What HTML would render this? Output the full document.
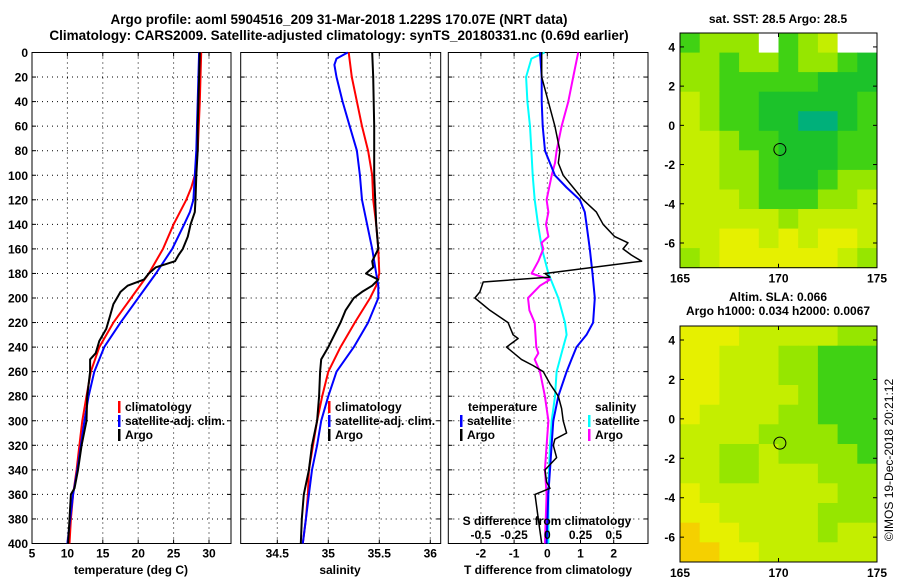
<!DOCTYPE html>
<html><head><meta charset="utf-8"><style>
html,body{margin:0;padding:0;background:#fff;}
svg{display:block;font-family:"Liberation Sans",sans-serif;font-weight:bold;}
</style></head><body>
<svg id="c" width="900" height="580" viewBox="0 0 900 580">
<text x="339" y="24" font-size="13.5" text-anchor="middle">Argo profile: aoml 5904516_209 31-Mar-2018 1.229S 170.07E (NRT data)</text>
<text x="339" y="40" font-size="13.5" text-anchor="middle">Climatology: CARS2009. Satellite-adjusted climatology: synTS_20180331.nc (0.69d earlier)</text>
<text x="778" y="23" font-size="12" text-anchor="middle">sat. SST: 28.5 Argo: 28.5</text>
<text x="778" y="301" font-size="12" text-anchor="middle">Altim. SLA: 0.066</text>
<text x="778" y="315" font-size="12" text-anchor="middle">Argo h1000: 0.034 h2000: 0.0067</text>
<text x="893" y="460" font-size="12" font-weight="normal" text-anchor="middle" transform="rotate(-90 893 460)">©IMOS 19-Dec-2018 20:21:12</text>
<g id="g"></g>
</svg>
<script>
// ---- profile data (depth m) ----
const depthArgoT = [0,20,40,60,80,100,120,130,140,150,160,165,170,175,180,185,190,195,200,205,215,225,235,245,250,260,280,300,320,340,355,360,380,400];
const tempArgo  = [28.7,28.6,28.5,28.4,28.4,28.2,28.1,28.0,27.4,27.0,26.3,25.7,25.2,22.5,21.5,20.8,18.5,17.5,17.0,16.5,16.0,15.5,14.5,14.0,13.2,13.2,12.8,12.7,12.0,11.5,11.0,10.5,10.3,10.1];
const depthClimT = [0,40,80,100,110,120,140,160,180,200,220,240,260,280,300,320,340,360,380,400];
const tempClim  = [28.9,28.7,28.4,28.0,27.5,26.8,25.0,23.5,21.5,19.0,16.5,14.5,13.3,12.7,12.1,11.7,11.3,10.8,10.5,10.3];
const depthSatT = [0,40,80,100,120,130,140,160,180,200,220,240,260,280,300,320,340,360,380,400];
const tempSat   = [28.6,28.4,28.2,28.0,27.8,27.3,26.5,24.8,22.5,20.0,17.5,15.2,13.8,13.0,12.4,11.9,11.4,10.8,10.4,10.0];

const depthArgoS = [0,20,60,100,140,160,170,175,180,185,190,195,200,210,220,230,240,250,260,280,300,320,340,360,380,400];
const salArgo    = [35.43,35.44,35.45,35.45,35.47,35.49,35.43,35.44,35.37,35.49,35.43,35.33,35.25,35.17,35.12,35.06,35.0,34.93,34.92,34.91,34.89,34.84,34.81,34.76,34.74,34.73];
const depthClimS = [0,20,40,60,80,100,120,140,160,180,190,200,220,240,260,280,300,320,340,360,380,400];
const salClim    = [35.2,35.23,35.28,35.33,35.39,35.43,35.44,35.47,35.49,35.5,35.47,35.41,35.26,35.12,35.0,34.94,34.89,34.85,34.81,34.8,34.78,34.75];
const depthSatS  = [0,5,10,20,40,60,80,100,120,140,160,180,190,200,220,240,260,280,300,320,340,360,380,400];
const salSat     = [35.19,35.08,35.06,35.08,35.14,35.21,35.28,35.31,35.33,35.38,35.43,35.47,35.49,35.49,35.39,35.25,35.08,35.0,34.93,34.89,34.84,34.81,34.78,34.75];

const depthDTsat = [0,20,40,60,80,100,110,120,130,140,160,180,200,220,230,240,250,260,280,300,320,340,360,400];
const dTsat      = [-0.22,-0.17,-0.17,-0.14,-0.07,0.23,0.58,0.98,1.13,1.18,1.28,1.36,1.43,1.38,1.18,0.88,0.73,0.58,0.33,0.18,0.13,0.08,0.03,-0.02];
const depthDTargo = [0,20,30,40,60,80,90,100,110,120,130,140,150,155,160,165,170,180,183,187,195,200,210,220,230,233,240,250,255,260,270,280,290,300,310,315,320,330,340,350,355,360,380,400];
const dTargo      = [-0.17,-0.17,-0.07,0.03,0.23,0.38,0.33,0.48,0.78,1.08,1.48,1.68,2.03,2.43,2.28,2.53,2.84,-0.07,0.08,-1.93,-2.03,-2.18,-1.73,-1.18,-1.03,-0.88,-1.23,-0.78,-0.43,-0.12,0.08,0.33,0.43,0.48,0.58,0.23,0.18,0.28,-0.07,-0.02,0.08,-0.37,-0.27,-0.17];
const depthDSsat = [0,5,20,40,60,80,100,120,140,160,180,200,220,230,240,260,280,300,320,340,360,400];
const dSsat      = [-0.02,-0.12,-0.16,-0.15,-0.13,-0.12,-0.11,-0.095,-0.07,-0.04,0.008,0.083,0.133,0.145,0.12,0.07,0.058,0.033,0.02,0.013,0.008,0.008];
const depthDSargo = [0,20,40,60,80,90,100,120,130,140,150,155,160,170,180,185,190,200,210,220,240,245,250,260,280,300,320,340,360,400];
const dSargo      = [0.233,0.195,0.158,0.108,0.07,0.058,0.033,-0.005,0.008,-0.01,0.008,-0.043,-0.03,-0.068,-0.118,0.02,-0.055,-0.145,-0.135,-0.095,-0.083,-0.068,-0.095,-0.055,-0.018,0.008,-0.005,-0.018,-0.005,-0.018];

// ---- tick labels ----
const depthTicks = [0,20,40,60,80,100,120,140,160,180,200,220,240,260,280,300,320,340,360,380,400];
const tempTicks = [5,10,15,20,25,30];
const salTicks = [34.5,35,35.5,36];
const dTTicks = [-2,-1,0,1,2];
const dSTicks = [-0.5,-0.25,0,0.25,0.5];
const lonTicks = [165,170,175];
const latTicks = [4,2,0,-2,-4,-6];

// ---- map data (rows lat 4.7 -> -7.3, cols lon 165 -> 175), colour level index ----
const sstGrid = [
[4,3,3,3,7,4,3,2,7,7],
[3,3,4,3,3,4,3,3,4,5],
[3,3,4,4,4,4,4,5,5,5],
[2,3,4,4,5,5,5,5,5,4],
[2,3,4,4,5,5,6,6,5,4],
[2,2,3,4,4,5,5,5,4,4],
[2,2,3,3,4,5,5,5,4,4],
[2,2,3,3,4,5,5,4,3,3],
[2,2,2,3,4,4,4,3,3,2],
[2,2,2,2,2,3,2,2,2,2],
[2,2,1,1,2,1,2,1,1,2],
[3,2,1,1,1,1,1,1,2,3]];
const slaGrid = [
[1,1,1,2,2,2,2,2,3,3],
[1,1,2,2,2,3,3,4,4,4],
[1,1,2,2,2,3,3,4,4,4],
[1,1,2,2,2,2,3,4,4,4],
[1,2,2,2,2,3,3,4,4,4],
[2,2,2,2,3,3,3,3,4,4],
[2,2,3,3,2,3,3,3,3,4],
[2,2,3,3,2,2,2,3,3,3],
[1,2,2,2,2,2,2,2,3,3],
[1,1,2,2,2,2,2,3,3,3],
[0,1,1,2,2,2,2,3,2,2],
[0,0,1,1,2,2,2,2,2,2]];
const argoLon = 170.07, argoLat = -1.229;

const NS="http://www.w3.org/2000/svg";
const G=document.getElementById('g');
function mk(tag,attrs,parent){const e=document.createElementNS(NS,tag);for(const k in attrs)e.setAttribute(k,attrs[k]);(parent||G).appendChild(e);return e;}
const yD = d => 52.5 + d*1.2275;
const xT = t => 32 + (t-5)*7.08;
const xS = s => 328.3 + (s-35)*102;
const xDT = t => 547.3 + t*33.2;
const xDS = s => 547.3 + s*132.8;
const TOP=52.5, BOT=yD(400);

function panel(x0,x1,name,vgrid,fx){
  const g=mk('g',{});
  
  
  depthTicks.forEach(d=>{ if(d>0&&d<400){ const l=mk('line',{x1:x0,x2:x1,y1:yD(d),y2:yD(d),stroke:'#000','stroke-width':1,'stroke-dasharray':'1,4'},g);
    }
    mk('line',{x1:x0,x2:x0+4,y1:yD(d),y2:yD(d),stroke:'#000'},g);mk('line',{x1:x1-4,x2:x1,y1:yD(d),y2:yD(d),stroke:'#000'},g);});
  vgrid.forEach(v=>{const x=fx(v); if(x>x0+1&&x<x1-1){const l=mk('line',{x1:x,x2:x,y1:TOP,y2:BOT,stroke:'#000','stroke-dasharray':'1,4'},g);
    }
    mk('line',{x1:x,x2:x,y1:BOT-4,y2:BOT,stroke:'#000'},g);mk('line',{x1:x,x2:x,y1:TOP,y2:TOP+4,stroke:'#000'},g);
    const t=mk('text',{x:x,y:BOT+14,'font-size':12,'text-anchor':'middle'},g);t.textContent=String(v);
    });
  const r=mk('rect',{x:x0,y:TOP,width:x1-x0,height:BOT-TOP,fill:'none',stroke:'#000','stroke-width':1},g);
  
  return g;
}
function line(g,ds,vs,fx,color,w,name){
  const pts=ds.map((d,i)=>fx(vs[i]).toFixed(1)+','+yD(d).toFixed(1)).join(' ');
  const p=mk('polyline',{points:pts,fill:'none',stroke:color,'stroke-width':w,'stroke-linejoin':'round'},g);
  
  
}
function txt(g,x,y,s,size,anchor,name,color){const t=mk('text',{x:x,y:y,'font-size':size,'text-anchor':anchor||'start',fill:color||'#000'},g);t.textContent=s;
  return t;}
function legBar(g,x,y,color){const r=mk('rect',{x:x,y:y-10,width:2.5,height:12,fill:color},g);}

// panel 1
const p1=panel(32,231,'temperature-panel',tempTicks,xT);
depthTicks.forEach(d=>txt(p1,28,yD(d)+4.5,String(d),12,'end','y-tick-label'));
line(p1,depthClimT,tempClim,xT,'#f00',2,'climatology-temperature-line');
line(p1,depthSatT,tempSat,xT,'#00f',2,'satellite-temperature-line');
line(p1,depthArgoT,tempArgo,xT,'#000',2,'argo-temperature-line');
txt(p1,131,574,'temperature (deg C)',12,'middle','x-axis-title');
[['climatology','#f00'],['satellite-adj. clim.','#00f'],['Argo','#000']].forEach((e,i)=>{legBar(p1,118,411+i*14,e[1]);txt(p1,125,411+i*14,e[0],12,'start','legend-entry');});

// panel 2
const p2=panel(240.7,440.7,'salinity-panel',salTicks,xS);
line(p2,depthClimS,salClim,xS,'#f00',2,'climatology-salinity-line');
line(p2,depthSatS,salSat,xS,'#00f',2,'satellite-salinity-line');
line(p2,depthArgoS,salArgo,xS,'#000',2,'argo-salinity-line');
txt(p2,340,574,'salinity',12,'middle','x-axis-title');
[['climatology','#f00'],['satellite-adj. clim.','#00f'],['Argo','#000']].forEach((e,i)=>{legBar(p2,328,411+i*14,e[1]);txt(p2,335,411+i*14,e[0],12,'start','legend-entry');});

// panel 3
const p3=panel(448.3,648,'difference-panel',dTTicks,xDT);
line(p3,depthDSsat,dSsat,xDS,'#0ff',2,'satellite-salinity-diff-line');
line(p3,depthDSargo,dSargo,xDS,'#f0f',2,'argo-salinity-diff-line');
line(p3,depthDTsat,dTsat,xDT,'#00f',2,'satellite-temperature-diff-line');
line(p3,depthDTargo,dTargo,xDT,'#000',1.5,'argo-temperature-diff-line');
txt(p3,548,574,'T difference from climatology',12,'middle','x-axis-title');
txt(p3,547,525,'S difference from climatology',12,'middle','s-axis-title');
dSTicks.forEach(v=>txt(p3,xDS(v),539,String(v),12,'middle','s-tick-label'));
txt(p3,468,411,'temperature',12,'start','legend-title');
txt(p3,595,411,'salinity',12,'start','legend-title');
legBar(p3,460,425,'#00f');txt(p3,467,425,'satellite',12,'start','legend-entry');
legBar(p3,460,439,'#000');txt(p3,467,439,'Argo',12,'start','legend-entry');
legBar(p3,588,425,'#0ff');txt(p3,595,425,'satellite',12,'start','legend-entry');
legBar(p3,588,439,'#f0f');txt(p3,595,439,'Argo',12,'start','legend-entry');

// maps
const palette=['#f5d000','#e6f000','#c4ee00','#96e600','#40d214','#1cc22a','#00b07a','#ffffff'];
function map(top,bot,grid,name){
  const x0=680,x1=877,latTop=4.71,latBot=-7.26;
  const fy=la=>top+(latTop-la)*(bot-top)/(latTop-latBot);
  const fx=lo=>x0+(lo-165)*(x1-x0)/10;
  const g=mk('g',{});
  const nr=grid.length,nc=grid[0].length;
  grid.forEach((row,r)=>row.forEach((v,c)=>{
    const cx=x0+c*(x1-x0)/nc, cy=top+r*(bot-top)/nr;
    const cell=mk('rect',{x:cx.toFixed(1),y:cy.toFixed(1),width:((x1-x0)/nc+0.5).toFixed(1),height:((bot-top)/nr+0.5).toFixed(1),fill:palette[v]},g);
    
  }));
  const fr=mk('rect',{x:x0,y:top,width:x1-x0,height:bot-top,fill:'none',stroke:'#000'},g);
  
  latTicks.forEach(la=>{const y=fy(la);mk('line',{x1:x0,x2:x0+4,y1:y,y2:y,stroke:'#000'},g);mk('line',{x1:x1-4,x2:x1,y1:y,y2:y,stroke:'#000'},g);
    txt(g,x0-5,y+4.5,String(la),12,'end','lat-tick-label');});
  lonTicks.forEach(lo=>{const x=fx(lo);mk('line',{x1:x,x2:x,y1:bot-4,y2:bot,stroke:'#000'},g);mk('line',{x1:x,x2:x,y1:top,y2:top+4,stroke:'#000'},g);
    txt(g,x,bot+15,String(lo),12,'middle','lon-tick-label');});
  const c=mk('circle',{cx:fx(argoLon),cy:fy(argoLat),r:6,fill:'none',stroke:'#000','stroke-width':1},g);
  
}
map(33,267.7,sstGrid,'sst-map');
map(326,562,slaGrid,'sla-map');
</script>
</body></html>
